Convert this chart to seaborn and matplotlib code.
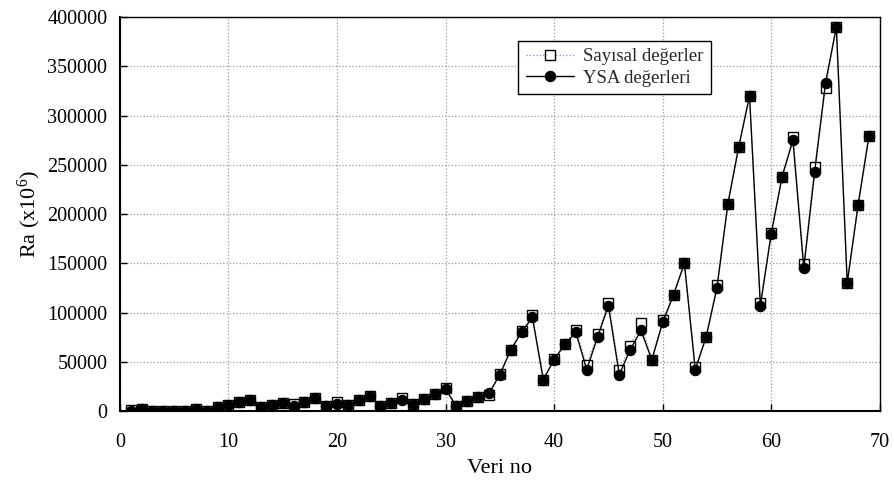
import matplotlib
matplotlib.use("Agg")
import matplotlib.pyplot as plt
import seaborn as sns
import numpy as np
import pandas as pd

veri_no = list(range(1, 70))
sayisal = [1000, 2000, 0, 0, 0, 0, 2000, 0, 4000, 6000,
           9000, 11000, 4000, 6000, 8000, 7000, 9000, 13000, 5000, 9000,
           6000, 11000, 15000, 5000, 8000, 13000, 7000, 12000, 17000, 23000,
           5000, 10000, 14000, 16000, 38000, 62000, 81000, 97000, 32000, 53000,
           68000, 82000, 47000, 78000, 110000, 42000, 66000, 89000, 52000, 92000,
           118000, 150000, 45000, 75000, 128000, 210000, 268000, 320000, 110000, 181000,
           238000, 278000, 149000, 248000, 328000, 390000, 130000, 209000, 279000]
ysa = [500, 2000, 0, 0, 0, 0, 2000, 0, 4000, 6000,
       9000, 11000, 4000, 6000, 8000, 5000, 9000, 13000, 5000, 7000,
       6000, 11000, 15000, 5000, 8000, 11000, 7000, 12000, 17000, 22000,
       5000, 10000, 14000, 18000, 37000, 62000, 80000, 95000, 32000, 52000,
       68000, 80000, 42000, 75000, 107000, 37000, 62000, 82000, 52000, 90000,
       118000, 150000, 42000, 75000, 125000, 210000, 268000, 320000, 107000, 180000,
       238000, 275000, 145000, 243000, 333000, 390000, 130000, 209000, 279000]

sns.set_theme(style="white")
plt.rcParams['font.family'] = ['Liberation Serif', 'DejaVu Serif']
plt.rcParams['mathtext.fontset'] = 'custom'
plt.rcParams['mathtext.rm'] = 'Liberation Serif'
plt.rcParams['mathtext.it'] = 'Liberation Serif'

fig = plt.figure(figsize=(8.95, 4.87), dpi=100)
ax = fig.add_axes([0.134, 0.156, 0.849, 0.809])

sns.lineplot(x=veri_no, y=sayisal, ax=ax, color='#8a8fc8', linestyle=':', linewidth=0.9,
             marker='s', markersize=7.5, markerfacecolor='white', markeredgecolor='black',
             markeredgewidth=1.0, label='Sayısal değerler')
sns.lineplot(x=veri_no, y=ysa, ax=ax, color='black', linestyle='-', linewidth=1.0,
             marker='o', markersize=7.5, markerfacecolor='black', markeredgecolor='black',
             label='YSA değerleri')

ax.set_xlim(0, 70)
ax.set_ylim(0, 400000)
ax.set_xticks(range(0, 71, 10))
ax.set_yticks(range(0, 400001, 50000))
ax.tick_params(direction='in', length=5, width=1, labelsize=14.5, colors='black',
               left=True, bottom=True)
ax.tick_params(axis='x', pad=16)
ax.tick_params(axis='y', pad=9)
ax.grid(True, linestyle=':', color='#999999', linewidth=0.9)
for s in ax.spines.values():
    s.set_color('black')
    s.set_linewidth(1.0)
ax.spines['left'].set_linewidth(1.5)
ax.spines['bottom'].set_linewidth(1.5)

ax.set_xlabel('Veri no', fontsize=16, color='black', labelpad=5)
ax.set_ylabel('Ra (x10$^{6}$)', fontsize=16, color='black', labelpad=3)

leg = ax.legend(loc='upper left', bbox_to_anchor=(0.524, 0.94), fontsize=13.5,
                frameon=True, fancybox=False, edgecolor='black', framealpha=1,
                handlelength=2.6, handletextpad=0.45, borderpad=0.4, labelspacing=0.22,
                borderaxespad=0)
leg.get_frame().set_linewidth(1.0)

fig.savefig('out.png', dpi=100)
